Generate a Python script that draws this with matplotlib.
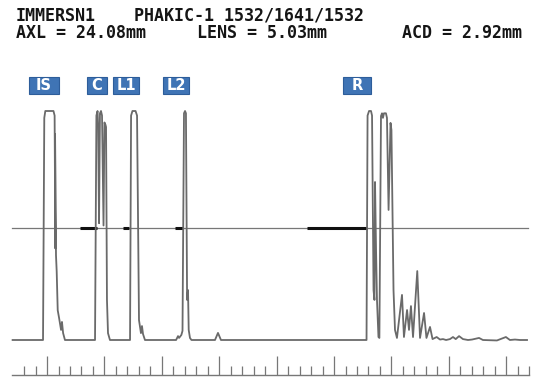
import matplotlib
matplotlib.use("Agg")
import matplotlib.pyplot as plt
from matplotlib.patches import Rectangle

# A-scan trace: x in ruler units, amplitude in % of saturation
trace_x = [0.0, 2.65, 2.76, 2.85, 3.56, 3.66, 3.72, 3.70, 3.78, 3.84, 3.93, 4.05, 4.22, 4.30, 4.40, 4.56,
           7.18, 7.30, 7.40, 7.45, 7.53, 7.61, 7.70, 7.79, 7.92, 8.00, 8.09, 8.14, 8.22, 8.31, 8.48,
           10.23, 10.32, 10.44, 10.71, 10.84, 11.01, 11.10, 11.18, 11.27, 11.36, 11.53,
           14.24, 14.41, 14.50, 14.70, 14.80, 14.93, 15.02, 15.10, 15.20, 15.28, 15.34, 15.45, 15.58,
           17.63, 17.89, 18.15,
           30.83, 30.92, 31.05, 31.22, 31.31, 31.44, 31.52, 31.57, 31.66, 31.74, 31.87, 31.95,
           32.09, 32.18, 32.26, 32.35, 32.52, 32.61, 32.75, 32.92, 33.00, 33.18, 33.31, 33.48,
           33.92, 34.09, 34.36, 34.53, 34.70, 34.88, 35.25, 35.49, 35.84, 36.05, 36.36, 36.58,
           36.94, 37.23, 37.49, 37.76, 38.10, 38.36, 38.60, 38.89, 39.23, 39.67, 40.02, 40.63,
           40.97, 42.19, 42.97, 43.32, 43.76, 44.20, 44.81]
trace_y = [0, 0, 97, 100, 100, 98, 40, 90, 37, 30, 13, 9.6, 4.4, 7.9, 3, 0,
           0, 98, 100, 94, 51, 99, 100, 98, 50, 95, 94, 93, 17.5, 3, 0,
           0, 98, 100, 100, 98, 8.7, 5.7, 3, 6.1, 2.6, 0,
           0, 1.7, 0.9, 2.2, 4, 99, 100, 99, 17.5, 21.8, 4.4, 0.9, 0,
           0, 3.1, 0,
           0, 98, 100, 100, 98, 21.8, 17.5, 69, 39, 17.5, 1.3, 0.9,
           97.8, 99, 97, 99, 99, 97, 56.8, 94.8, 91.7, 21.8, 4.4, 0.9,
           19.7, 1.3, 13.1, 4.4, 14.8, 1.3, 30.1, 0.9, 11.8, 0.9, 5.7, 0.4,
           1.3, 0.2, 0.4, 0, 0.4, 1.3, 0.4, 1.7, 0.4, 0, 0.2, 0.9,
           0, -0.2, 1.3, 0, 0.2, 0, 0]

threshold = 48.9
gate_start = [5.87, 9.62, 14.15, 25.64]
gate_end = [7.35, 10.15, 14.85, 30.87]

echo_labels = ["IS", "C", "L1", "L2", "R"]
label_left = [29, 87, 113, 163, 343]     # px
label_width = [30, 20, 26, 26, 28]

major_ticks = list(range(3, 44, 5))
minor_ticks = [t for t in range(1, 46) if t not in major_ticks]

header1a = "IMMERSN1"
header1b = "PHAKIC-1 1532/1641/1532"
axl_text = "AXL = 24.08mm"
lens_text = "LENS = 5.03mm"
acd_text = "ACD = 2.92mm"

W, H = 537, 381
fig = plt.figure(figsize=(W / 100, H / 100), dpi=100)
ax = fig.add_axes([0, 0, 1, 1])
ax.axis("off")
ax.set_xlim(-12.6 / 11.48, (W - 12.6) / 11.48)
ax.set_ylim((340 - H) / 2.29, 340 / 2.29)

gray = "#6a6a6a"
ax.axhline(threshold, xmin=12 / W, xmax=528 / W, color="#777777", lw=0.9)
for s, e in zip(gate_start, gate_end):
    ax.plot([s, e], [threshold, threshold], color="#111111", lw=2.2, solid_capstyle="butt")
ax.plot(trace_x, trace_y, color=gray, lw=1.3, solid_joinstyle="round")

# ruler
rb, rmin, rmaj = -15.3, -11.4, -7.0
ax.plot([-0.05, 45.0], [rb, rb], color="#777777", lw=1.0)
ax.vlines(minor_ticks, rb, rmin, color="#777777", lw=0.9)
ax.vlines(major_ticks, rb, rmaj, color="#777777", lw=0.9)

font = dict(family="DejaVu Sans Mono", fontweight="bold", fontsize=12, color="#151515")
fig.text(16 / W, 1 - 16 / H, header1a, va="center", ha="left", **font)
fig.text(134 / W, 1 - 16 / H, header1b, va="center", ha="left", **font)
fig.text(16 / W, 1 - 33 / H, axl_text, va="center", ha="left", **font)
fig.text(197 / W, 1 - 33 / H, lens_text, va="center", ha="left", **font)
fig.text(522 / W, 1 - 33 / H, acd_text, va="center", ha="right", **font)

for lab, left, w in zip(echo_labels, label_left, label_width):
    fig.patches.append(Rectangle((left / W, 1 - 94 / H), w / W, 17 / H, transform=fig.transFigure,
                                 facecolor="#3f74b5", edgecolor="#2d5d9a", lw=0.8))
    fig.text((left + w / 2) / W, 1 - 85.5 / H, lab, ha="center", va="center", color="white",
             fontsize=10.5, fontweight="bold", family="DejaVu Sans")

fig.savefig("out.png", dpi=100, facecolor="white")
